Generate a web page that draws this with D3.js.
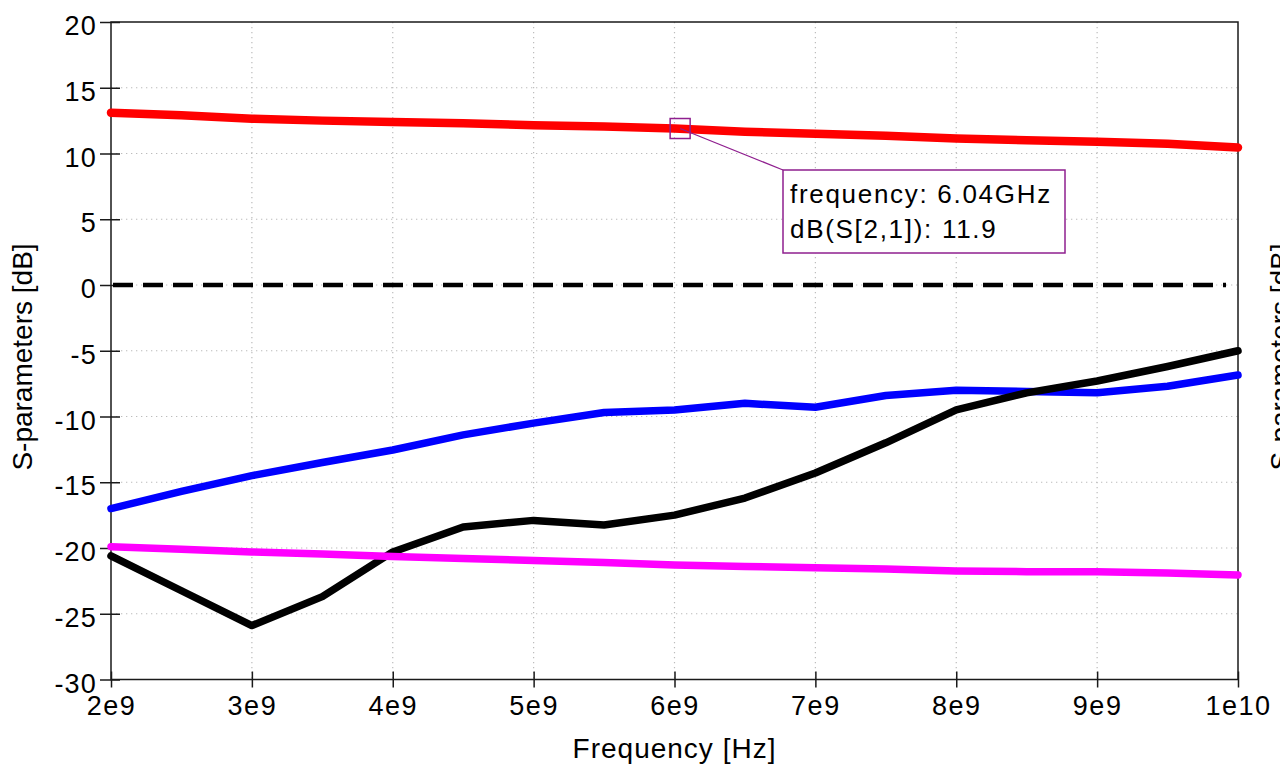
<!DOCTYPE html>
<html>
<head>
<meta charset="utf-8">
<script src="https://cdn.jsdelivr.net/npm/d3@7"></script>
<style>
    html, body { margin: 0; padding: 0; background: #fff; }
    svg { display: block; font-family: "Liberation Sans", Arial, sans-serif; }
</style>
</head>
<body>
<svg width="1280" height="771"></svg>
<script>
// frequency points [Hz]
const freqs = [2.0e9, 2.5e9, 3.0e9, 3.5e9, 4.0e9, 4.5e9, 5.0e9, 5.5e9, 6.0e9,
               6.5e9, 7.0e9, 7.5e9, 8.0e9, 8.5e9, 9.0e9, 9.5e9, 1.0e10];

// dB(S[2,1]) - red
const s21 = [13.1, 12.9, 12.65, 12.5, 12.4, 12.3, 12.15, 12.05, 11.9,
             11.65, 11.5, 11.35, 11.15, 11.0, 10.9, 10.75, 10.45];
// blue
const s11 = [-17.0, -15.7, -14.5, -13.5, -12.55, -11.4, -10.5, -9.7, -9.5,
             -9.0, -9.3, -8.4, -8.0, -8.1, -8.2, -7.7, -6.85];
// black
const s22 = [-20.6, -23.25, -25.9, -23.7, -20.3, -18.4, -17.9, -18.25, -17.5,
             -16.2, -14.3, -12.0, -9.5, -8.2, -7.3, -6.2, -5.0];
// magenta
const s12 = [-19.9, -20.1, -20.3, -20.45, -20.65, -20.8, -20.95, -21.1, -21.3,
             -21.4, -21.5, -21.6, -21.75, -21.8, -21.8, -21.9, -22.05];

const xTicks = [2e9, 3e9, 4e9, 5e9, 6e9, 7e9, 8e9, 9e9, 1e10];
const xTickLabels = ['2e9', '3e9', '4e9', '5e9', '6e9', '7e9', '8e9', '9e9', '1e10'];
const yTicks = [-30, -25, -20, -15, -10, -5, 0, 5, 10, 15, 20];

const markerFreq = 6.04e9, markerValue = 11.9;
const markerLines = ['frequency: 6.04GHz', 'dB(S[2,1]): 11.9'];

const LEFT = 111, RIGHT = 1238, TOP = 22, BOTTOM = 679.5;
const AXIS = '#1a1a1a', GRID = '#bcbcbc', MARK = '#8f1f8f';

const svg = d3.select('svg');

const x = d3.scaleLinear().domain([2e9, 1e10]).range([LEFT, RIGHT]);
const y = d3.scaleLinear().domain([-30, 20]).range([BOTTOM, TOP]);

// Сетка
svg.append('g').selectAll('line')
    .data(xTicks.slice(1, -1))
    .join('line')
    .attr('x1', d => x(d)).attr('x2', d => x(d))
    .attr('y1', TOP).attr('y2', BOTTOM)
    .attr('stroke', GRID).attr('stroke-width', 1.2)
    .attr('stroke-dasharray', '1.3,3.7');

svg.append('g').selectAll('line')
    .data(yTicks.slice(1, -1))
    .join('line')
    .attr('x1', LEFT).attr('x2', RIGHT)
    .attr('y1', d => y(d)).attr('y2', d => y(d))
    .attr('stroke', GRID).attr('stroke-width', 1.2)
    .attr('stroke-dasharray', '1.3,3.7');

// Оси
const yAxis = svg.append('g')
    .attr('transform', `translate(${LEFT},0)`)
    .call(d3.axisLeft(y).tickValues(yTicks).tickSize(11)
        .tickFormat(d => String(d)));
yAxis.selectAll('.tick line').attr('x1', 9);
yAxis.selectAll('.tick text')
    .attr('dy', null).attr('y', 12.5).attr('x', -14)
    .style('letter-spacing', '1.2px');

const xAxis = svg.append('g')
    .attr('transform', `translate(0,${BOTTOM})`)
    .call(d3.axisBottom(x).tickValues(xTicks).tickSize(8)
        .tickFormat((d, i) => xTickLabels[i]));
xAxis.selectAll('.tick line').attr('y1', -8);
xAxis.selectAll('.tick text')
    .attr('dy', null).attr('y', 35.5)
    .style('letter-spacing', '1.5px');

[yAxis, xAxis].forEach(function (g) {
    g.select('.domain').remove();
    g.selectAll('.tick line').attr('stroke', AXIS).attr('stroke-width', 1.5);
    g.selectAll('.tick text').attr('fill', '#000').style('font-size', '27px');
});

// Рамка
svg.append('rect')
    .attr('x', LEFT).attr('y', TOP)
    .attr('width', RIGHT - LEFT).attr('height', BOTTOM - TOP)
    .attr('fill', 'none').attr('stroke', AXIS).attr('stroke-width', 1.5);

// Подписи осей
svg.append('text')
    .attr('x', (LEFT + RIGHT) / 2).attr('y', 758)
    .attr('text-anchor', 'middle')
    .style('font-size', '28px').style('letter-spacing', '1px')
    .text('Frequency [Hz]');

[32, 1290].forEach(function (bx) {
    svg.append('text')
        .attr('transform', `translate(${bx},357) rotate(-90)`)
        .attr('text-anchor', 'middle')
        .style('font-size', '28px')
        .text('S-parameters [dB]');
});

// Линия 0 dB
svg.append('line')
    .attr('x1', x(2e9) + 2).attr('x2', RIGHT - 12)
    .attr('y1', y(0)).attr('y2', y(0))
    .attr('stroke', '#000').attr('stroke-width', 4.5)
    .attr('stroke-dasharray', '20,10');

// Кривые
const line = d3.line()
    .x((d, i) => x(freqs[i]))
    .y(d => y(d));

[[s11, '#0000ff', 7.5], [s22, '#000000', 7.5], [s12, '#ff00ff', 7.5], [s21, '#ff0000', 8.5]]
    .forEach(function (s) {
        svg.append('path')
            .attr('d', line(s[0]))
            .attr('fill', 'none')
            .attr('stroke', s[1])
            .attr('stroke-width', s[2])
            .attr('stroke-linejoin', 'round')
            .attr('stroke-linecap', 'round');
    });

// Маркер
const mx = x(markerFreq), my = y(markerValue);
const box = {x: 783, y: 170, w: 282, h: 83};

svg.append('line')
    .attr('x1', mx).attr('y1', my)
    .attr('x2', box.x).attr('y2', box.y)
    .attr('stroke', MARK).attr('stroke-width', 1.3);

svg.append('rect')
    .attr('x', mx - 10).attr('y', my - 10)
    .attr('width', 20).attr('height', 20)
    .attr('fill', 'none').attr('stroke', MARK).attr('stroke-width', 1.5);

svg.append('rect')
    .attr('x', box.x).attr('y', box.y)
    .attr('width', box.w).attr('height', box.h)
    .attr('fill', '#fff').attr('stroke', MARK).attr('stroke-width', 1.5);

markerLines.forEach(function (t, i) {
    svg.append('text')
        .attr('x', box.x + 7).attr('y', box.y + 33 + i * 35)
        .style('font-size', '26px').style('letter-spacing', '1.7px')
        .attr('fill', '#000')
        .text(t);
});
</script>
</body>
</html>
